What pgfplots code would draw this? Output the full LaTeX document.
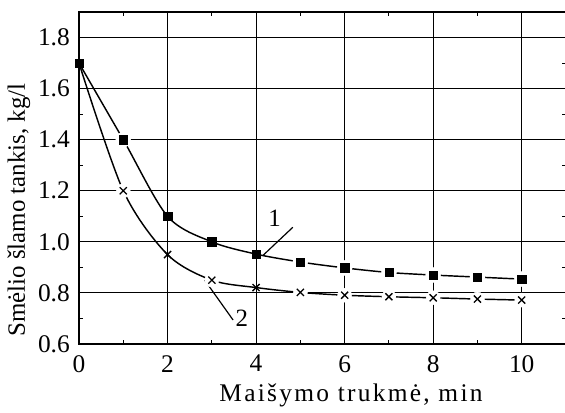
\documentclass[border=0pt]{standalone}
\usepackage{pgfplots}
\pgfplotsset{compat=1.18}
\usepackage{fontspec}
\setmainfont{Liberation Serif}
\newfontfamily\xlfont[LetterSpace=9]{Liberation Serif}
\begin{document}
\begin{tikzpicture}
\begin{axis}[
  set layers,
  scale only axis,
  width=487bp, height=332bp,
  xmin=0, xmax=11, ymin=0.6, ymax=1.9,
  xtick={0,2,4,6,8,10},
  ytick={0.6,0.8,1.0,1.2,1.4,1.6,1.8},
  minor xtick={1,3,5,7,9},
  minor ytick={0.7,0.9,1.1,1.3,1.5,1.7},
  yticklabel style={anchor=east, xshift=-9bp, /pgf/number format/fixed, /pgf/number format/fixed zerofill, /pgf/number format/precision=1},
  /pgf/number format/assume math mode=true,
  tick label style={font=\fontsize{25.5}{28}\selectfont, inner sep=0pt},
  xticklabel style={anchor=north, yshift=-11bp},
  xlabel={\xlfont Maišymo trukmė, min},
  ylabel={Smėlio šlamo tankis, kg/l},
  xlabel style={font=\fontsize{25.5}{28}\selectfont, at={(axis description cs:0.5585,-0.1717)}, anchor=base},
  ylabel style={font=\fontsize{25}{28}\selectfont, at={(axis description cs:-0.1109,0.4036)}, anchor=base, rotate=0},
  grid=major,
  major grid style={black, line width=1.15pt},
  axis line style={line width=1.5pt},
  tick align=inside,
  major tick length=0pt,
  minor tick length=4bp,
  tick style={black, line width=1pt},
  clip=false,
]
% lines (bottom layer)
\addplot[on layer=axis background, black, line width=1.45pt, smooth, tension=0.5, no marks]
coordinates {(0,1.70) (1,1.40) (2,1.10) (3,1.00) (4,0.952) (5,0.921) (6,0.898) (7,0.880) (8,0.870) (9,0.862) (10,0.854)};
\addplot[on layer=axis background, black, line width=1.45pt, smooth, tension=0.5, no marks]
coordinates {(0,1.70) (1,1.20) (2,0.95) (3,0.85) (4,0.821) (5,0.802) (6,0.791) (7,0.785) (8,0.781) (9,0.776) (10,0.772)};
% white halos for gaps
\addplot[on layer=axis background, only marks, mark=*, mark size=7.5bp, mark options={draw=white, fill=white}]
coordinates {(1,1.40) (5,0.921) (6,0.898) (7,0.880) (8,0.870) (9,0.862) (10,0.854)};
\addplot[on layer=axis background, only marks, mark=*, mark size=7bp, mark options={draw=white, fill=white}]
coordinates {(1,1.20) (3,0.85) (5,0.802) (6,0.791) (7,0.785) (8,0.781) (9,0.776) (10,0.772)};
% markers
\addplot[black, only marks, mark=square*, mark size=4.2bp]
coordinates {(0,1.70) (1,1.40) (2,1.10) (3,1.00) (4,0.952) (5,0.921) (6,0.898) (7,0.880) (8,0.870) (9,0.862) (10,0.854)};
\addplot[black, only marks, mark=x, mark size=5bp, mark options={line width=1.3pt}]
coordinates {(1,1.20) (2,0.95) (3,0.85) (4,0.821) (5,0.802) (6,0.791) (7,0.785) (8,0.781) (9,0.776) (10,0.772)};
\draw[black, line width=1.2pt] (axis cs:4.15,0.946) -- (axis cs:4.83,1.057);
\node[font=\fontsize{25}{28}\selectfont] at (axis cs:4.42,1.093) {1};
\draw[black, line width=1.2pt] (axis cs:2.84,0.850) -- (axis cs:3.48,0.694);
\node[font=\fontsize{25}{28}\selectfont] at (axis cs:3.68,0.702) {2};
\end{axis}
\pgfresetboundingbox
\path ([xshift=-79bp,yshift=-69bp]current axis.south west) rectangle ([xshift=-1bp,yshift=12bp]current axis.north east);
\end{tikzpicture}
\end{document}
